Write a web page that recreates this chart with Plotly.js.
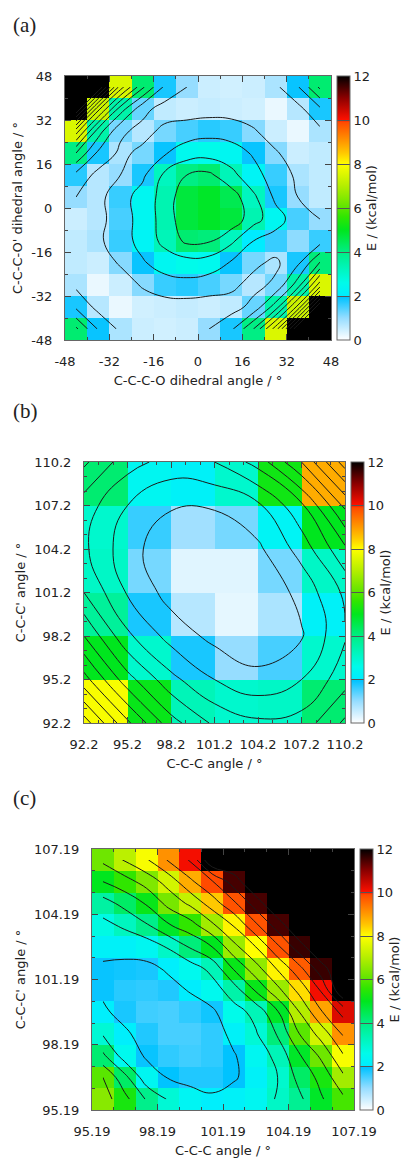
<!DOCTYPE html>
<html>
<head>
<meta charset="utf-8">
<script src="https://cdn.plot.ly/plotly-3.0.1.min.js"></script>
<style>html,body{margin:0;padding:0;background:#fff;}#chart{width:419px;height:1161px;}</style>
</head>
<body>
<div id="chart"></div>
<script>
// ---------- Panel (a): dihedral scan ----------
const aX = [-44, -36, -28, -20, -12, -4, 4, 12, 20, 28, 36, 44];
const aY = [44, 36, 28, 20, 12, 4, -4, -12, -20, -28, -36, -44];   // row order of aE (top to bottom)
// energies (kcal/mol); cells >= 12 are drawn black
const aE = [
  [13, 13, 7.5, 4.2, 1.8, 1.0, 0.5, 0.45, 0.5, 0.8, 1.9, 4.2],
  [13, 7.3, 3.5, 1.3, 0.6, 0.5, 0.55, 0.5, 0.45, 0.2, 0.7, 1.8],
  [7.5, 3.5, 1.2, 0.7, 1.2, 1.5, 1.7, 1.6, 1.1, 0.5, 0.2, 0.8],
  [4.0, 1.8, 0.8, 1.2, 1.9, 2.5, 2.6, 2.4, 1.9, 1.1, 0.5, 0.6],
  [1.7, 0.7, 1.0, 1.8, 3.2, 4.0, 4.2, 3.3, 2.3, 1.6, 0.8, 0.6],
  [1.0, 0.7, 1.6, 2.4, 3.4, 4.7, 4.9, 4.5, 3.2, 1.8, 1.0, 0.6],
  [0.5, 0.7, 1.5, 2.4, 3.4, 4.7, 4.9, 4.7, 3.4, 2.4, 1.5, 1.0],
  [0.6, 0.8, 1.6, 2.3, 3.3, 4.2, 4.1, 3.2, 2.0, 1.6, 1.05, 1.6],
  [0.6, 0.5, 1.1, 1.9, 2.4, 2.6, 2.5, 1.9, 1.2, 0.8, 1.8, 4.1],
  [0.8, 0.2, 0.5, 1.1, 1.6, 1.7, 1.5, 1.2, 0.7, 1.2, 3.5, 7.5],
  [1.8, 0.7, 0.2, 0.45, 0.5, 0.55, 0.5, 0.6, 1.3, 3.5, 7.3, 13],
  [4.2, 1.9, 0.8, 0.5, 0.45, 0.5, 1.0, 1.8, 4.0, 7.5, 13, 13]
];
const aTicks = [-48, -32, -16, 0, 16, 32, 48];
const aTickText = ["-48", "-32", "-16", "0", "16", "32", "48"];

// ---------- Panel (b): C-C-C vs C-C-C' angle ----------
const bX = [93.7, 96.7, 99.7, 102.7, 105.7, 108.7];
const bY = [108.7, 105.7, 102.7, 99.7, 96.7, 93.7];   // row order of bE (top to bottom)
const bE = [
  [4.2, 2.4, 2.2, 3.0, 5.2, 8.8],
  [3.0, 1.6, 0.9, 1.2, 2.3, 5.0],
  [3.1, 1.2, 0.3, 0.3, 1.2, 3.1],
  [3.7, 1.8, 0.7, 0.25, 0.8, 2.2],
  [5.0, 3.0, 1.8, 1.0, 1.5, 3.0],
  [7.9, 5.1, 3.3, 3.0, 3.1, 4.2]
];
// fitted surface at the grid nodes (b)
const bFitX = [92.2, 95.2, 98.2, 101.2, 104.2, 107.2, 110.2];
const bFitY = [110.2, 107.2, 104.2, 101.2, 98.2, 95.2, 92.2];   // row order of bFit (top to bottom)
const bFit = [
  [5.2, 3.4, 2.6, 3.0, 4.4, 7.0, 10.5],
  [3.5, 2.0, 1.1, 1.1, 1.8, 3.8, 7.2],
  [3.2, 1.4, 0.3, 0.2, 0.8, 2.4, 4.8],
  [4.0, 1.9, 0.6, 0.1, 0.2, 1.3, 3.2],
  [6.0, 3.2, 1.6, 0.7, 0.3, 0.9, 2.9],
  [8.4, 5.4, 3.3, 2.0, 1.3, 2.0, 3.6],
  [11.5, 8.2, 5.4, 3.8, 3.2, 3.4, 5.2]
];
const bTicks = [92.2, 95.2, 98.2, 101.2, 104.2, 107.2, 110.2];
const bTickText = ["92.2", "95.2", "98.2", "101.2", "104.2", "107.2", "110.2"];

// ---------- Panel (c): C-C-C vs C-C-C' angle (fine) ----------
const cX = [95.69, 96.69, 97.69, 98.69, 99.69, 100.69, 101.69, 102.69, 103.69, 104.69, 105.69, 106.69];
const cY = [106.69, 105.69, 104.69, 103.69, 102.69, 101.69, 100.69, 99.69, 98.69, 97.69, 96.69, 95.69];  // row order of cE
const cE = [
  [6.2, 7.1, 7.9, 9.1, 10.1, 13, 13, 13, 13, 13, 13, 13],
  [5.0, 5.6, 6.4, 7.4, 8.8, 9.9, 11.5, 13, 13, 13, 13, 13],
  [3.6, 4.3, 5.1, 6.3, 7.2, 8.5, 9.8, 11.5, 13, 13, 13, 13],
  [2.7, 3.2, 3.9, 4.9, 5.6, 6.8, 8.1, 9.8, 11.5, 13, 13, 13],
  [2.2, 2.2, 2.4, 3.1, 4.1, 5.0, 6.7, 8.0, 9.8, 11.6, 13, 13],
  [1.9, 1.85, 1.8, 2.1, 2.5, 3.3, 5.1, 6.6, 8.1, 9.7, 11.6, 13],
  [1.9, 1.7, 1.65, 1.75, 2.05, 2.5, 3.5, 5.1, 6.7, 8.3, 10.1, 13],
  [2.1, 1.8, 1.55, 1.5, 1.65, 1.85, 2.6, 3.3, 4.9, 7.0, 8.9, 10.3],
  [2.9, 2.1, 1.75, 1.5, 1.5, 1.65, 2.2, 2.9, 4.1, 6.0, 7.4, 9.1],
  [4.2, 2.5, 1.9, 1.65, 1.55, 1.65, 1.95, 2.4, 3.3, 4.9, 6.2, 7.9],
  [6.0, 4.3, 2.4, 1.95, 1.75, 1.75, 1.95, 2.2, 3.0, 4.3, 5.3, 6.8],
  [6.5, 5.3, 3.9, 2.9, 2.35, 2.1, 2.2, 2.4, 3.1, 3.8, 4.9, 5.8]
];
const cTicks = [95.19, 98.19, 101.19, 104.19, 107.19];
const cTickText = ["95.19", "98.19", "101.19", "104.19", "107.19"];

const cbTicks = [0, 2, 4, 6, 8, 10, 12];
const panelLabels = ["(a)", "(b)", "(c)"];
const xTitles = ["C-C-C-O dihedral angle / °", "C-C-C angle / °", "C-C-C angle / °"];
const yTitles = ["C-C-C-O' dihedral angle / °", "C-C-C' angle / °", "C-C-C' angle / °"];
const cbTitle = "E / (kcal/mol)";

// ---------- styling ----------
const W = 419, H = 1161;
const EMAX = 12;
const palette = [
  [0, '#ffffff'], [1.0/EMAX, '#96ddff'], [1.95/EMAX, '#00c3ff'], [2.0/EMAX, '#00ecff'],
  [2.6/EMAX, '#00fbea'], [3.3/EMAX, '#00f5b8'], [4.0/EMAX, '#00ee84'], [5.0/EMAX, '#00e61e'],
  [5.6/EMAX, '#30e600'], [6.2/EMAX, '#6ee600'], [7.0/EMAX, '#b4ee00'], [8.0/EMAX, '#ffff00'],
  [8.5/EMAX, '#ffc800'], [9.0/EMAX, '#ff9a00'], [9.9/EMAX, '#ff4a00'], [10.0/EMAX, '#ff1000'],
  [11.0/EMAX, '#8c0000'], [1, '#000000']
];
const tickFont = {family: 'DejaVu Sans, sans-serif', size: 13, color: '#222'};
const titleFont = {family: 'DejaVu Sans, sans-serif', size: 13, color: '#222'};

// pixel boxes of the plot areas
const boxes = [
  {l: 65, r: 331, t: 76, b: 340, cb: 337, lab: 25},
  {l: 84, r: 345, t: 462, b: 723, cb: 351, lab: 411},
  {l: 92, r: 354, t: 849, b: 1110, cb: 360, lab: 798}
];
const rev = a => a.slice().reverse();
const panels = [
  {x: aX, y: aY, z: aE, cx: aX, cy: aY, cz: aE, ticks: aTicks, text: aTickText, range: [-48, 48], minor: 8, tick0: -48},
  {x: bX, y: bY, z: bE, cx: bFitX, cy: bFitY, cz: bFit, ticks: bTicks, text: bTickText, range: [92.2, 110.2], minor: 1, tick0: 92.2},
  {x: cX, y: cY, z: cE, cx: cX, cy: cY, cz: cE, ticks: cTicks, text: cTickText, range: [95.19, 107.19], minor: 1, tick0: 95.19}
];

const data = [];
const layout = {
  width: W, height: H,
  margin: {l: 0, r: 0, t: 0, b: 0},
  paper_bgcolor: '#fff', plot_bgcolor: '#fff',
  showlegend: false,
  annotations: []
};

panels.forEach((p, i) => {
  const bx = boxes[i];
  const sfx = i === 0 ? '' : String(i + 1);
  const xa = 'x' + sfx, ya = 'y' + sfx;
  data.push({
    type: 'heatmap', x: p.x, y: rev(p.y), z: rev(p.z), xaxis: xa, yaxis: ya,
    zmin: 0, zmax: EMAX, colorscale: palette, zsmooth: false, hoverinfo: 'skip',
    colorbar: {
      x: bx.cb / W, xanchor: 'left', xpad: 0, ypad: 0,
      y: 1 - bx.t / H, yanchor: 'top', len: (bx.b - bx.t) / H, lenmode: 'fraction',
      thickness: 13, thicknessmode: 'pixels',
      outlinewidth: 1, outlinecolor: '#666',
      tickmode: 'array', tickvals: cbTicks, ticktext: cbTicks.map(String),
      ticks: 'inside', ticklen: 13, tickwidth: 1, tickcolor: '#555',
      tickfont: tickFont,
      title: {text: cbTitle, side: 'right', font: titleFont}
    }
  });
  data.push({
    type: 'contour', x: p.cx, y: rev(p.cy), z: rev(p.cz), xaxis: xa, yaxis: ya,
    showscale: false, hoverinfo: 'skip',
    contours: {coloring: 'none', start: 1, end: 12, size: 1},
    line: {color: '#1a1a1a', width: 1, smoothing: 1.3}
  });
  const common = {
    range: p.range, tickmode: 'array', tickvals: p.ticks, ticktext: p.text,
    ticks: 'inside', ticklen: 6, tickwidth: 1, tickcolor: '#444',
    showline: true, linecolor: '#666', linewidth: 1, mirror: 'ticks',
    showgrid: false, zeroline: false, tickfont: tickFont,
    minor: {tick0: p.tick0, dtick: p.minor, ticks: 'inside', ticklen: 3, tickcolor: '#444', showgrid: false},
    ticklabelstandoff: 9
  };
  layout['xaxis' + sfx] = Object.assign({}, common, {
    domain: [bx.l / W, bx.r / W], anchor: ya,
    title: {text: xTitles[i], font: titleFont, standoff: 8}
  });
  layout['yaxis' + sfx] = Object.assign({}, common, {
    domain: [1 - bx.b / H, 1 - bx.t / H], anchor: xa,
    title: {text: yTitles[i], font: titleFont, standoff: 5}
  });
  layout.annotations.push({
    text: panelLabels[i], xref: 'paper', yref: 'paper',
    x: 11 / W, xanchor: 'left', y: 1 - bx.lab / H, yanchor: 'middle',
    showarrow: false, font: {family: 'Liberation Serif, serif', size: 21, color: '#222'}
  });
});

Plotly.newPlot('chart', data, layout, {staticPlot: true, displayModeBar: false});
</script>
</body>
</html>
